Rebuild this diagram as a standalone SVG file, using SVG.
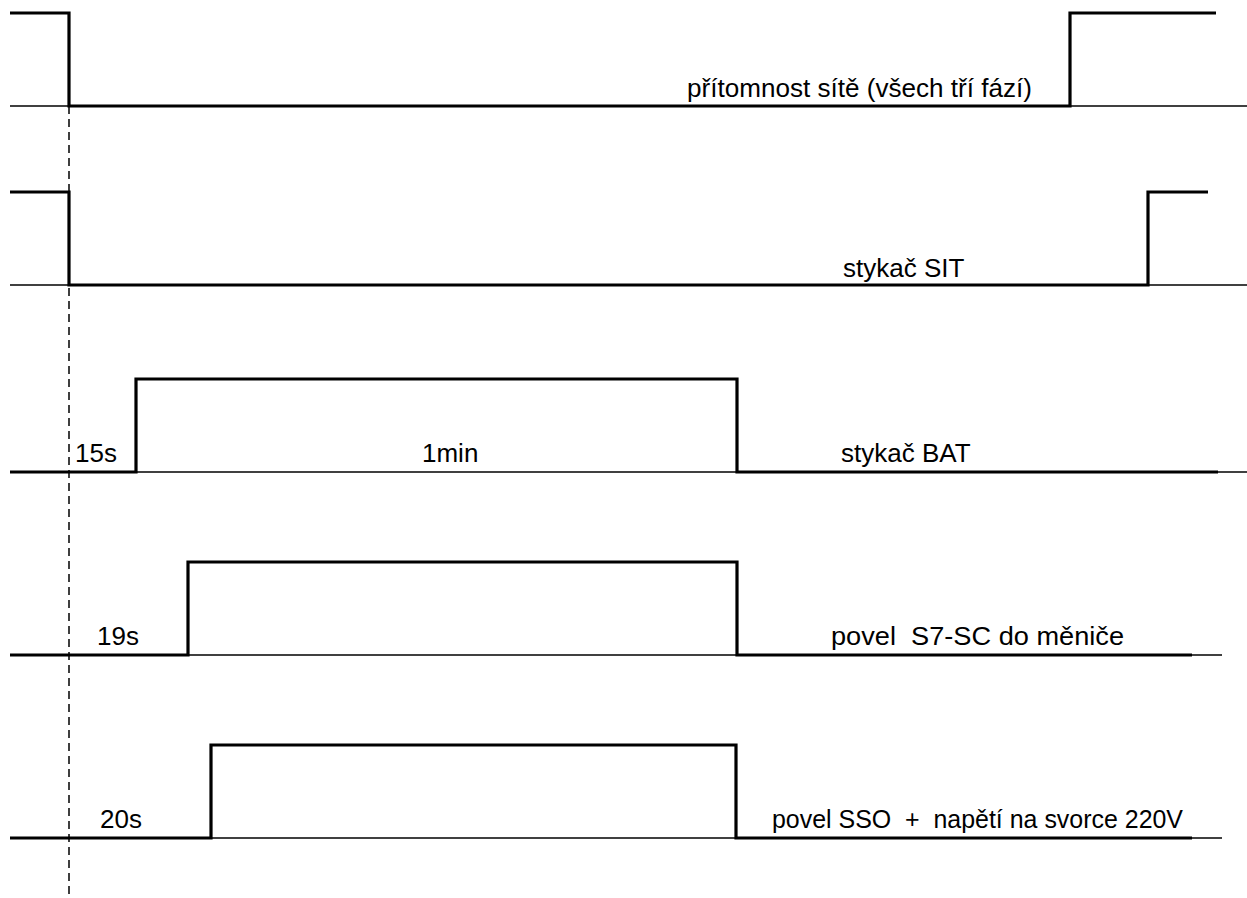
<svg xmlns="http://www.w3.org/2000/svg" width="1247" height="898" viewBox="0 0 1247 898">
<style>
.thin{stroke:#000;stroke-width:1.5;fill:none}
.sig{stroke:#000;stroke-width:3.2;fill:none;stroke-linejoin:miter}
.dash{stroke:#000;stroke-width:1.5;stroke-dasharray:8 5;fill:none}
text{font-family:"Liberation Sans",Arial,sans-serif;font-size:26px;fill:#000}
</style>
<rect width="1247" height="898" fill="#fff"/>
<g id="connectors">
<line class="dash" x1="69" y1="106" x2="69" y2="898"/>
</g>
<g id="sig1">
<line class="thin" x1="10" y1="106" x2="1247" y2="106"/>
<path class="sig" d="M10 13 H69 V106 H1070 V13 H1216"/>
<text x="687" y="97" textLength="345" lengthAdjust="spacingAndGlyphs">přítomnost sítě (všech tří fází)</text>
</g>
<g id="sig2">
<line class="thin" x1="10" y1="285" x2="1247" y2="285"/>
<path class="sig" d="M10 192 H69 V285 H1148 V192 H1208"/>
<text x="843" y="277">stykač SIT</text>
</g>
<g id="sig3">
<line class="thin" x1="10" y1="472" x2="1247" y2="472"/>
<path class="sig" d="M10 472 H136 V379 H737 V472 H1218"/>
<text x="75" y="462">15s</text>
<text x="422" y="462">1min</text>
<text x="841" y="462">stykač BAT</text>
</g>
<g id="sig4">
<line class="thin" x1="10" y1="655" x2="1222" y2="655"/>
<path class="sig" d="M10 655 H188 V562 H737 V655 H1192"/>
<text x="97" y="645">19s</text>
<text x="831" y="645" xml:space="preserve" textLength="293" lengthAdjust="spacingAndGlyphs">povel  S7-SC do měniče</text>
</g>
<g id="sig5">
<line class="thin" x1="10" y1="838" x2="1222" y2="838"/>
<path class="sig" d="M10 838 H211 V745 H736 V838 H1192"/>
<text x="100" y="828">20s</text>
<text x="772" y="828" xml:space="preserve" textLength="411" lengthAdjust="spacingAndGlyphs">povel SSO  +  napětí na svorce 220V</text>
</g>
</svg>
